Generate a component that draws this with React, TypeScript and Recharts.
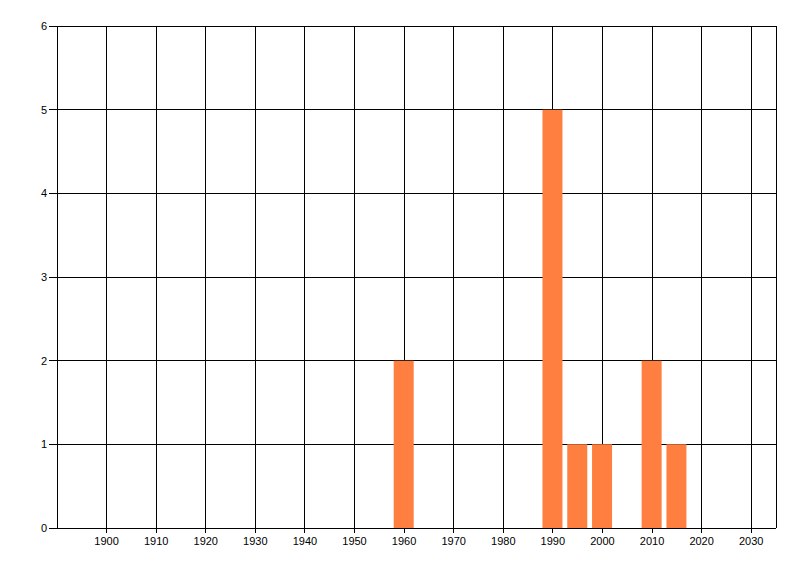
import { BarChart, Bar, XAxis, YAxis, CartesianGrid } from 'recharts';

// years with at least one entry, and how many entries fell in each
const years = [1960, 1990, 1995, 2000, 2010, 2015];
const counts = [2, 5, 1, 1, 2, 1];

const xTicks = [1900, 1910, 1920, 1930, 1940, 1950, 1960, 1970, 1980, 1990, 2000, 2010, 2020, 2030];
const yTicks = [0, 1, 2, 3, 4, 5, 6];

const data = years.map((year, i) => ({ year, count: counts[i] }));

const tickStyle = { fill: '#000', fontSize: 11, fontFamily: '"Liberation Sans", Arial, sans-serif' };

export default function App() {
  return (
    <div style={{ position: 'absolute', left: 0, top: 0, width: 800, height: 576, background: '#fff' }}>
      <style>{'.recharts-surface line { shape-rendering: crispEdges; }'}</style>
      <BarChart
        width={800}
        height={576}
        data={data}
        margin={{ top: 26, right: 24, left: 0, bottom: 0 }}
      >
        <CartesianGrid stroke="#000" strokeWidth={1} fill="none" horizontal vertical />
        <XAxis
          dataKey="year"
          type="number"
          domain={[1890, 2035]}
          ticks={xTicks}
          allowDataOverflow
          interval={0}
          height={48}
          tickSize={5}
          tickMargin={4}
          stroke="#000"
          tickLine={{ stroke: '#000' }}
          axisLine={{ stroke: '#000' }}
          tick={tickStyle}
        />
        <YAxis
          type="number"
          domain={[0, 6]}
          ticks={yTicks}
          interval={0}
          width={57}
          tickSize={8}
          tickMargin={2}
          stroke="#000"
          tickLine={{ stroke: '#000' }}
          axisLine={{ stroke: '#000' }}
          tick={tickStyle}
        />
        <Bar dataKey="count" fill="#ff7f40" barSize={20} isAnimationActive={false} />
      </BarChart>
    </div>
  );
}
